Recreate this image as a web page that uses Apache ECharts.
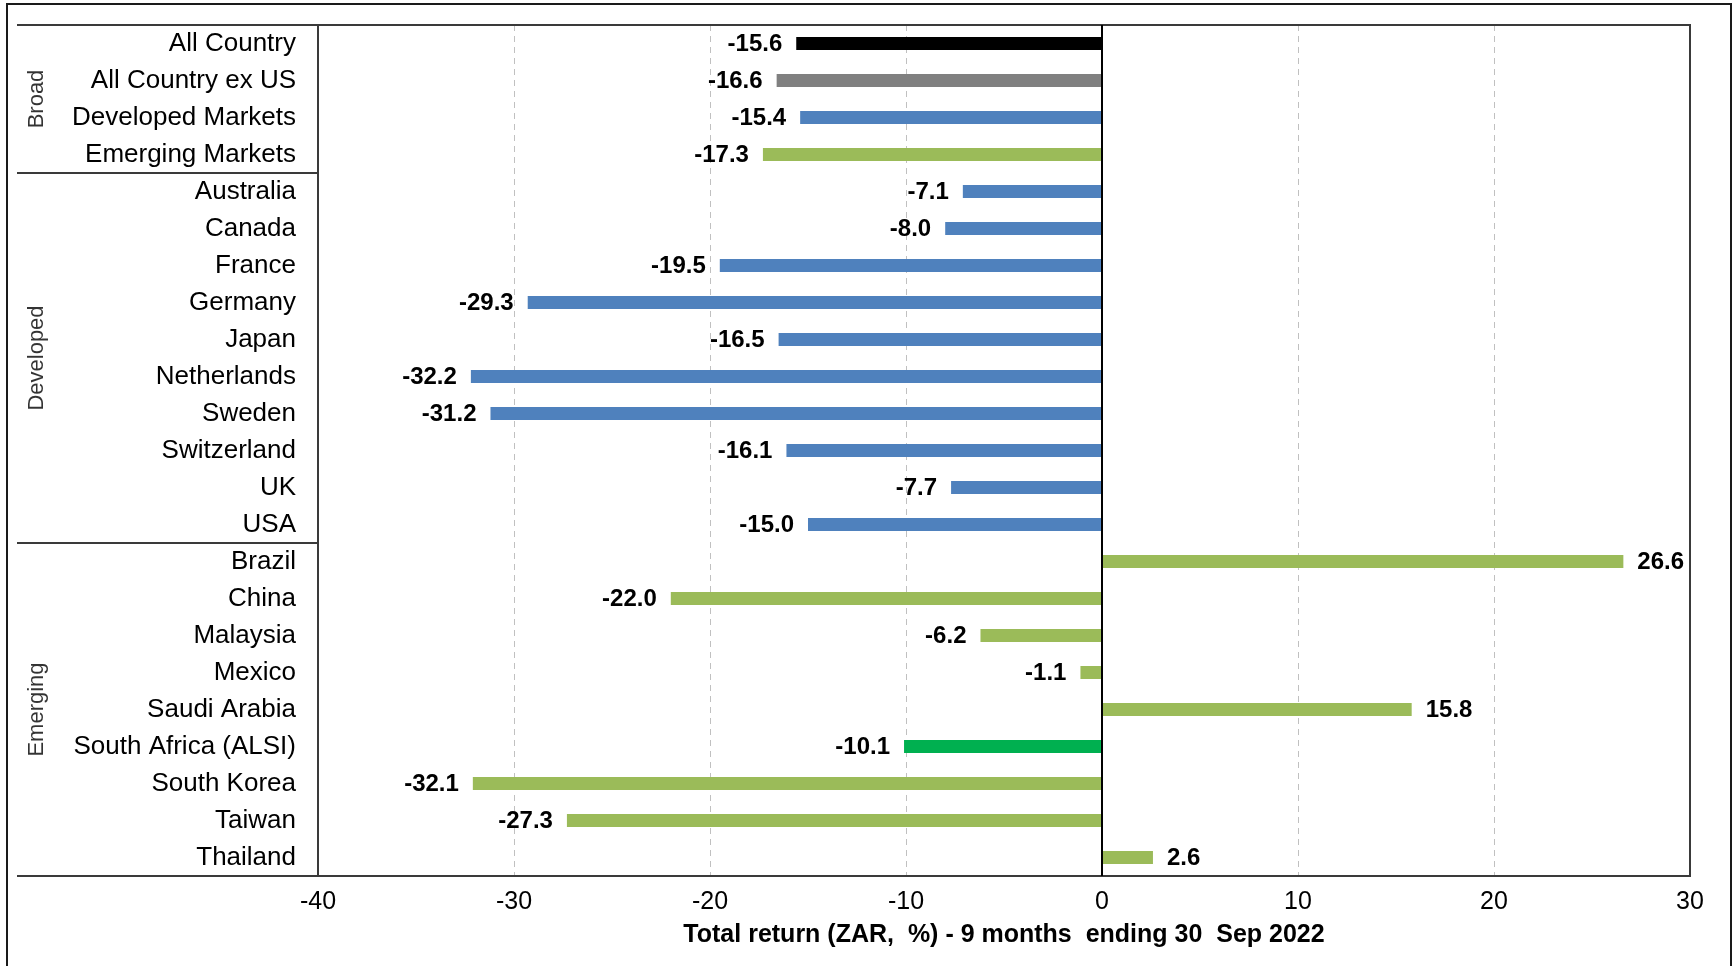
<!DOCTYPE html>
<html>
<head>
<meta charset="utf-8">
<script src="https://cdn.jsdelivr.net/npm/echarts@6/dist/echarts.min.js"></script>
<style>
html,body{margin:0;padding:0;background:#fff;overflow:hidden;}
#chart{width:1733px;height:966px;}
</style>
</head>
<body>
<div id="chart"></div>
<script>
// ---- data ----
const categories = [
  'All Country','All Country ex US','Developed Markets','Emerging Markets',
  'Australia','Canada','France','Germany','Japan','Netherlands','Sweden','Switzerland','UK','USA',
  'Brazil','China','Malaysia','Mexico','Saudi Arabia','South Africa (ALSI)','South Korea','Taiwan','Thailand'
];
const values = [
  -15.6, -16.6, -15.4, -17.3,
  -7.1, -8.0, -19.5, -29.3, -16.5, -32.2, -31.2, -16.1, -7.7, -15.0,
  26.6, -22.0, -6.2, -1.1, 15.8, -10.1, -32.1, -27.3, 2.6
];
const kinds = [
  'all','exus','dev','em',
  'dev','dev','dev','dev','dev','dev','dev','dev','dev','dev',
  'em','em','em','em','em','za','em','em','em'
];
const groups = ['Broad','Developed','Emerging'];
const groupSizes = [4, 10, 9];
const xTicks = [-40, -30, -20, -10, 0, 10, 20, 30];
const axisTitle = 'Total return (ZAR,  %) - 9 months  ending 30  Sep 2022';

// ---- styles ----
const kindColor = { all:'#000000', exus:'#808080', dev:'#4F81BD', em:'#9BBB59', za:'#00B050' };
const FONT = '"Liberation Sans", Arial, sans-serif';

// group boundaries and centres
const bounds = [0];
groupSizes.forEach((s, i) => bounds.push(bounds[i] + s));
const groupData = groups.map((g, i) => [0.065, (bounds[i] + bounds[i + 1]) / 2, g]);

const chart = echarts.init(document.getElementById('chart'), null, { renderer: 'canvas' });

const gridLeft = 318, gridRight = 43, gridTop = 25, gridBottom = 90;

chart.setOption({
  animation: false,
  backgroundColor: '#fff',
  graphic: [{
    type: 'rect', silent: true, z: 100,
    shape: { x: 7, y: 4, width: 1724, height: 1000 },
    style: { fill: 'none', stroke: '#1a1a1a', lineWidth: 2 }
  }],
  grid: [
    { left: gridLeft, right: gridRight, top: gridTop, bottom: gridBottom,
      show: true, borderColor: '#3a3a3a', borderWidth: 2, backgroundColor: 'transparent', z: 3 },
    { left: 17, width: gridLeft - 17, top: gridTop, bottom: gridBottom, show: false }
  ],
  xAxis: [
    { type: 'value', gridIndex: 0, min: xTicks[0], max: xTicks[xTicks.length - 1], interval: 10,
      axisLine: { show: false }, axisTick: { show: false },
      axisLabel: { color: '#000', fontFamily: FONT, fontSize: 25, margin: 14,
        formatter: v => xTicks.includes(v) ? String(v) : '' },
      splitLine: { show: true, lineStyle: { color: '#c0c0c0', type: [6, 5], width: 1 } },
      name: axisTitle, nameLocation: 'middle', nameGap: 47,
      nameTextStyle: { color: '#000', fontFamily: FONT, fontSize: 25, fontWeight: 'bold' }
    },
    { type: 'value', gridIndex: 1, min: 0, max: 1, show: false }
  ],
  yAxis: [
    { type: 'category', gridIndex: 0, data: categories, inverse: true,
      axisLine: { show: false }, axisTick: { show: false }, splitLine: { show: false },
      axisLabel: { color: '#000', fontFamily: FONT, fontSize: 26, margin: 22, align: 'right' }
    },
    { type: 'value', gridIndex: 1, min: 0, max: categories.length, inverse: true, show: false }
  ],
  series: [
    {
      type: 'bar', xAxisIndex: 0, yAxisIndex: 0, barWidth: 13,
      data: values.map((v, i) => ({
        value: v,
        itemStyle: { color: kindColor[kinds[i]] },
        label: { position: v < 0 ? 'left' : 'right' }
      })),
      label: { show: true, distance: 14, color: '#000', fontFamily: FONT, fontSize: 24, fontWeight: 'bold',
        offset: [0, 1], formatter: p => p.value.toFixed(1) },
      markLine: {
        silent: true, symbol: 'none', label: { show: false },
        lineStyle: { color: '#000', type: 'solid', width: 2 },
        data: [{ xAxis: 0 }]
      },
      z: 2
    },
    {
      type: 'scatter', xAxisIndex: 1, yAxisIndex: 1, symbolSize: 0,
      data: groupData,
      label: { show: true, position: 'inside', rotate: 90, formatter: p => p.value[2],
        color: '#000', fontFamily: FONT, fontSize: 22 },
      markLine: {
        silent: true, symbol: 'none', label: { show: false },
        lineStyle: { color: '#3a3a3a', type: 'solid', width: 2 },
        data: bounds.map(b => ({ yAxis: b }))
      }
    }
  ]
});
</script>
</body>
</html>
